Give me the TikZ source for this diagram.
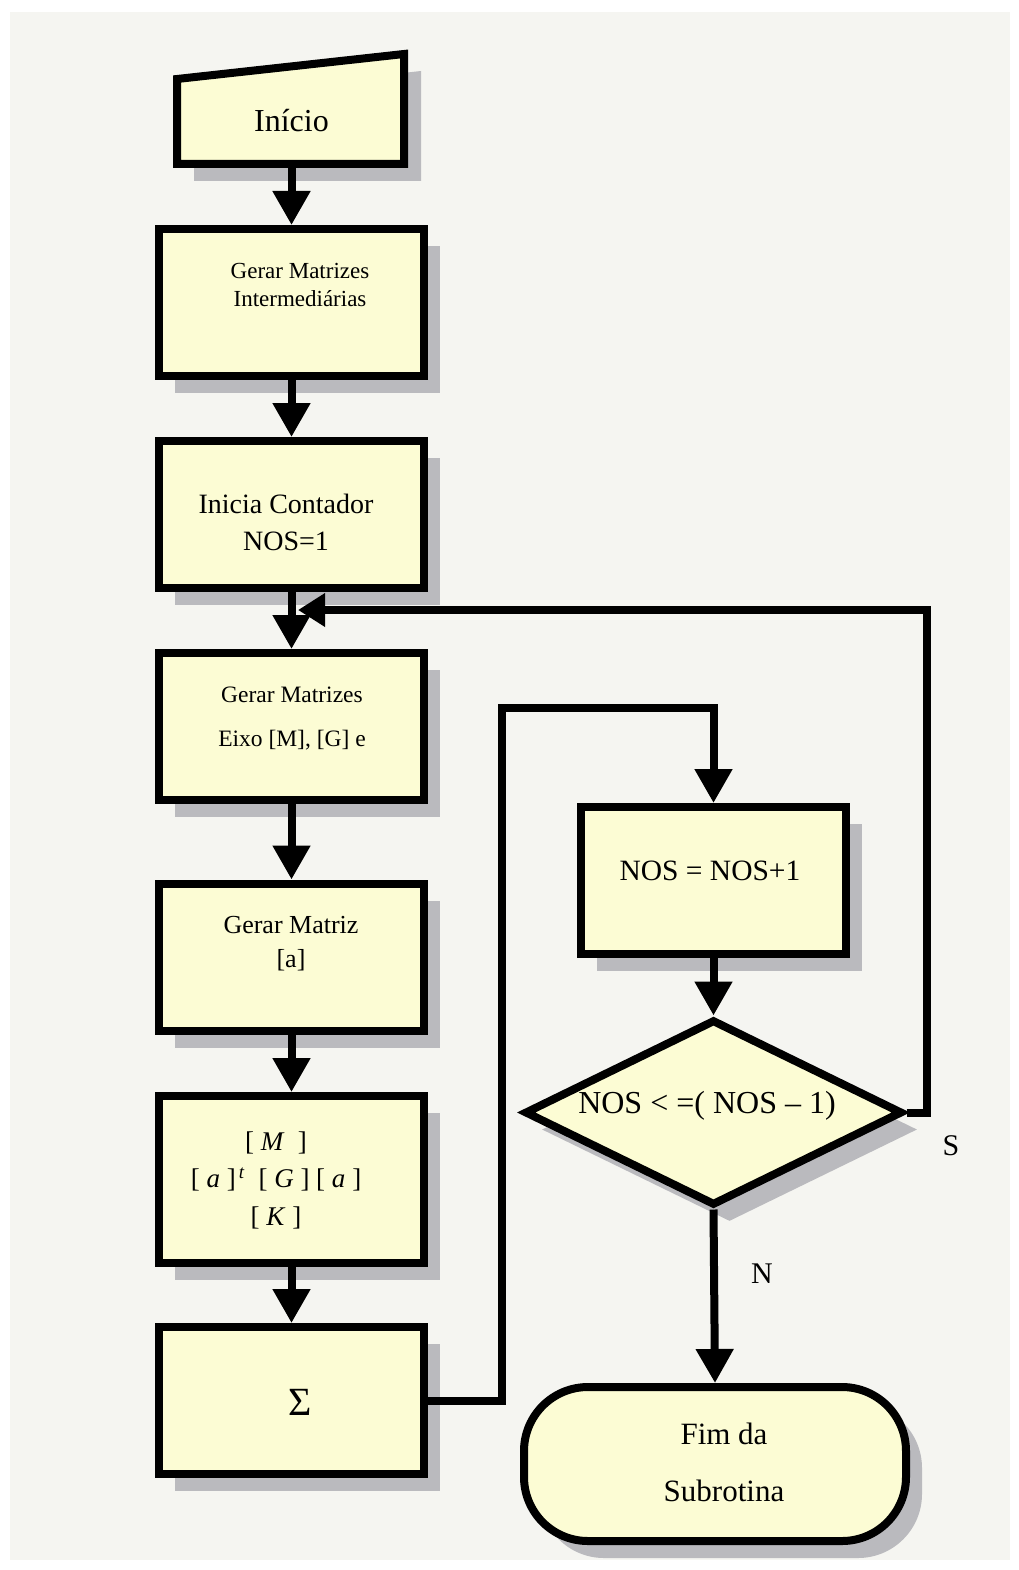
\documentclass[tikz,border=0pt]{standalone}
\usepackage{fontspec}
\setmainfont{Liberation Serif}
\usetikzlibrary{arrows.meta,shapes.geometric,shadows}
\definecolor{boxfill}{RGB}{252,252,212}
\definecolor{shgray}{RGB}{186,186,190}
\definecolor{bgcol}{RGB}{245,245,241}
\begin{document}
\begin{tikzpicture}[x=1pt,y=-1pt,
  shade17/.style={drop shadow={shadow xshift=16pt, shadow yshift=-17pt, fill=shgray, opacity=1}},
  box/.style={draw, line width=8pt, fill=boxfill, line join=miter, minimum width=265pt, minimum height=147pt, inner sep=0pt, shade17},
  txt/.style={inner sep=0pt, align=center},
  arr/.style={line width=8pt, line join=miter, -{Triangle[length=34pt,width=36pt]}},
  arrsm/.style={line width=8pt, line join=miter, -{Triangle[length=27pt,width=32pt]}}
]
\useasboundingbox (0,0) rectangle (1019,1570);
\fill[white] (0,0) rectangle (1019,1570);
\fill[bgcol] (10,12) rectangle (1010,1560);

% start (manual input)
\fill[shgray] (194,96) -- (421,71) -- (421,181) -- (194,181) -- cycle;
\draw[line width=8pt, fill=boxfill, line join=miter] (177,79) -- (404,54) -- (404,164) -- (177,164) -- cycle;
\node[txt, minimum width=227pt, minimum height=86pt, font=\fontsize{32}{36}\selectfont] (start) at (291.5,121) {Início};

% left column boxes
\node[box] (b2) at (291.5,302.5) {};
\node[box] (b3) at (291.5,514.5) {};
\node[box] (b4) at (291.5,726.5) {};
\node[box] (b5) at (291.5,957) {};
\node[box, minimum height=167pt] (b6) at (291.5,1179.5) {};
\node[box] (b7) at (291.5,1400.5) {};

% right column
\node[box] (inc) at (713.5,880.5) {};
\node[draw, diamond, line width=8pt, fill=boxfill, line join=miter, minimum width=378pt, minimum height=186pt, inner sep=0pt, shade17] (dia) at (713.5,1112.5) {};
\node[draw, line width=8pt, fill=boxfill, rounded corners=64pt, minimum width=382pt, minimum height=154pt, inner sep=0pt, shade17] (fim) at (715,1464) {};

% texts
\node[txt, font=\fontsize{23}{28}\selectfont] (t2) at (300,285) {Gerar Matrizes\\Intermediárias};
\node[txt, font=\fontsize{28}{37}\selectfont] (t3) at (286,522) {Inicia Contador\\NOS=1};
\node[txt, font=\fontsize{23.5}{44}\selectfont] (t4) at (292,719) {Gerar Matrizes\\Eixo [M], [G] e};
\node[txt, font=\fontsize{26}{34}\selectfont] (t5) at (291,944) {Gerar Matriz\\{}[a]};
\node[txt, font=\fontsize{27}{37.5}\selectfont] (t6) at (276,1180) {[ \textit{M}\ \ ]\\{}[ \textit{a} ]\textsuperscript{\,\textit{t}}\ \ [ \textit{G} ] [ \textit{a} ]\\{}[ \textit{K} ]};
\node[txt, font=\fontsize{40}{44}\selectfont] (t7) at (300,1402) {Σ};
\node[txt, font=\fontsize{29.5}{34}\selectfont] (tinc) at (710,871) {NOS = NOS+1};
\node[txt, font=\fontsize{32}{36}\selectfont] (tdia) at (707,1106) {NOS < =( NOS – 1)};
\node[txt, font=\fontsize{31}{57}\selectfont] (tfim) at (724,1462) {Fim da\\Subrotina};
\node[txt, font=\fontsize{30}{34}\selectfont] (ls) at (951,1146) {S};
\node[txt, font=\fontsize{30}{34}\selectfont] (ln) at (762,1274) {N};

% connectors
\coordinate (c1) at (502,708);
\coordinate (c2) at (927,610);
\coordinate (c3) at (298,610);
\draw[arr] (start.south) -- (b2.north);
\draw[arr] (b2.south) -- (b3.north);
\draw[arr] (b3.south) -- (b4.north);
\draw[arr] (b4.south) -- (b5.north);
\draw[arr] (b5.south) -- (b6.north);
\draw[arr] (b6.south) -- (b7.north);
\draw[arr] (b7.east) -| (c1) -| (inc.north);
\draw[arr] (inc.south) -- (dia.north);
\draw[arrsm] (dia.east) -| (c2) -- (c3);
\draw[arr] (dia.south) -- (fim.north);
\end{tikzpicture}
\end{document}
